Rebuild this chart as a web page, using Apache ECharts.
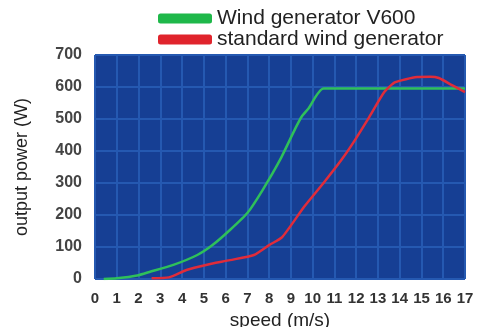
<!DOCTYPE html>
<html><head><meta charset="utf-8">
<script src="https://cdn.jsdelivr.net/npm/echarts@6/dist/echarts.min.js"></script>
<style>html,body{margin:0;padding:0;background:#fff}#c{width:478px;height:327px}</style>
</head><body><div id="c"></div>
<script>
const seriesNames = ['Wind generator V600', 'standard wind generator'];
const xTicks = [0,1,2,3,4,5,6,7,8,9,10,11,12,13,14,15,16,17];
const yTicks = [0,100,200,300,400,500,600,700];
const v600 = [[0.4,0],[1,2],[2,12],[2.5,22],[3.6,44],[4.7,75],[5.4,106],[6.2,153],[7.0,206],[7.7,278],[8.5,372],[9.2,470],[9.5,508],[9.8,532],[10.5,595],[17,595]];
const standard = [[2.6,2],[3.4,5],[4.2,28],[5.1,44],[6.2,59],[7.3,75],[8.0,106],[8.6,131],[9.6,225],[10.5,300],[11.3,370],[11.8,419],[12.6,506],[13.3,585],[13.8,615],[14.8,631],[15.4,632],[15.8,628],[16.4,606],[17,584]];

const chart = echarts.init(document.getElementById('c'));
chart.setOption({
  animation:false,
  backgroundColor:'#fff',
  legend:{
    orient:'vertical', left:158, top:8, itemGap:0, padding:[0,0,0,0],
    itemWidth:54, itemHeight:10, icon:'roundRect',
    textStyle:{fontFamily:'Liberation Sans', fontSize:21, lineHeight:21, color:'#222'},
    data:seriesNames
  },
  grid:{left:95, right:13, top:55, bottom:48, backgroundColor:'#163f94', show:true, borderWidth:0, outerBoundsMode:'none', containLabel:false},
  xAxis:{
    type:'value', min:0, max:17, interval:1,
    name:'speed (m/s)', nameLocation:'middle', nameGap:28,
    nameTextStyle:{fontFamily:'Liberation Sans', fontSize:19, color:'#222'},
    axisLine:{show:false}, axisTick:{show:false},
    axisLabel:{fontFamily:'Liberation Sans', fontSize:15, fontWeight:'bold', color:'#333', margin:12, formatter:v=>xTicks.includes(v)?String(v):''},
    splitLine:{show:true, lineStyle:{color:'#2559b1', width:2}}
  },
  yAxis:{
    type:'value', min:0, max:700, interval:100,
    name:'output power (W)', nameLocation:'middle', nameGap:64, nameRotate:90,
    nameTextStyle:{fontFamily:'Liberation Sans', fontSize:18, color:'#222'},
    axisLine:{show:false}, axisTick:{show:false},
    axisLabel:{fontFamily:'Liberation Sans', fontSize:16, fontWeight:'bold', color:'#444', margin:13, formatter:v=>yTicks.includes(v)?String(v):''},
    splitLine:{show:true, lineStyle:{color:'#2559b1', width:2}}
  },
  series:[
    {name:seriesNames[0], type:'line', data:v600, symbol:'none', smooth:0.2, color:'#1fb84a', lineStyle:{width:2.5, color:'#2fc05a'}, z:3},
    {name:seriesNames[1], type:'line', data:standard, symbol:'none', smooth:0.2, color:'#e0242c', lineStyle:{width:2.5, color:'#e02c3a'}, z:4}
  ]
});
</script></body></html>
